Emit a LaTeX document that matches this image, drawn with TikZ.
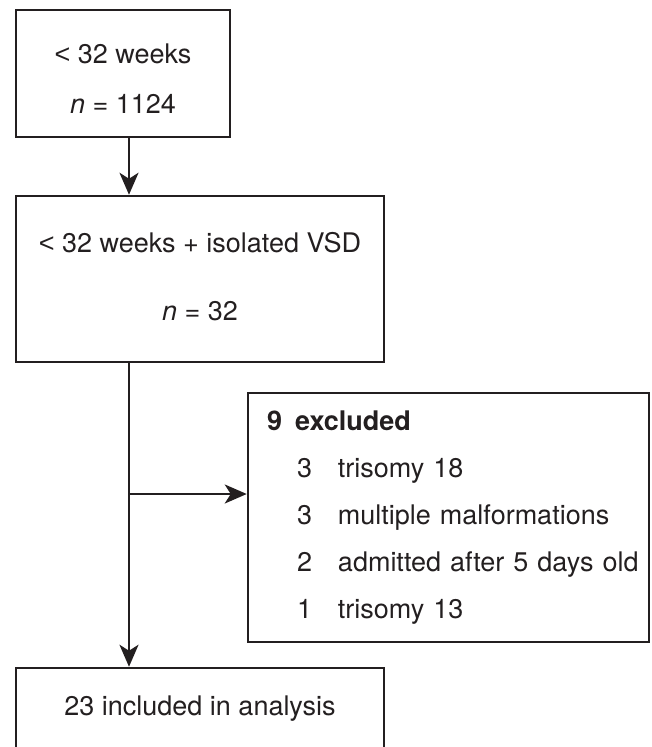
\documentclass[tikz,border=0pt]{standalone}
\usepackage{fontspec}
\setmainfont{TeX Gyre Heros}
\newfontfamily\lessfont{Liberation Sans}
\newcommand{\lessthan}{{\lessfont <}}
\usetikzlibrary{arrows.meta,positioning}
\definecolor{inkgray}{RGB}{35,31,32}

\begin{document}
\begin{tikzpicture}[x=1pt,y=-1pt,line width=2.5pt,color=inkgray,>={Stealth[length=22pt,width=19pt,inset=6pt]},node font=\fontsize{27}{32}\selectfont]
	\tikzstyle{flow box}=[draw,inner sep=0pt,align=center]
	\useasboundingbox (0,0) rectangle (651,747);
	\clip (0,0) rectangle (651,747);
	
	\coordinate (spine) at (129,0);
	\coordinate (split) at (129,494);
	
	\node[flow box,minimum width=214pt,minimum height=127pt,font=\fontsize{27}{50}\selectfont] (WEEKS) at (123,73.5) {\rule{0pt}{29pt}\lessthan{} 32 weeks\\\textit{n} = 1124};
	\node[flow box,minimum width=368pt,minimum height=166pt,font=\fontsize{27}{68}\selectfont] (VSD) at (200,279) {\lessthan{} 32 weeks + isolated VSD\\\textit{n} = 32\rule[-5.4pt]{0pt}{5.4pt}};
	\node[flow box,align=left,text width=363pt,minimum width=401pt,minimum height=249pt,font=\fontsize{27}{47}\selectfont] (EXCL) at (448.5,517.5) {\textbf{\makebox[28pt][l]{9}excluded}\\
		\hspace*{30pt}\makebox[41pt][l]{3}\mbox{trisomy 18}\\
		\hspace*{30pt}\makebox[41pt][l]{3}\mbox{multiple malformations}\\
		\hspace*{30pt}\makebox[41pt][l]{2}\mbox{admitted after 5 days old}\\
		\hspace*{30pt}\makebox[41pt][l]{1}\mbox{trisomy 13}};
	\node[flow box,minimum width=368pt,minimum height=82pt] (INCL) at (200,709) {23 included in analysis};
	
	\path[->]
	(WEEKS.south -| spine) edge (VSD.north -| spine)
	(VSD.south -| spine) edge (INCL.north -| spine)
	(split) edge (EXCL.west |- split);
\end{tikzpicture}
\end{document}
